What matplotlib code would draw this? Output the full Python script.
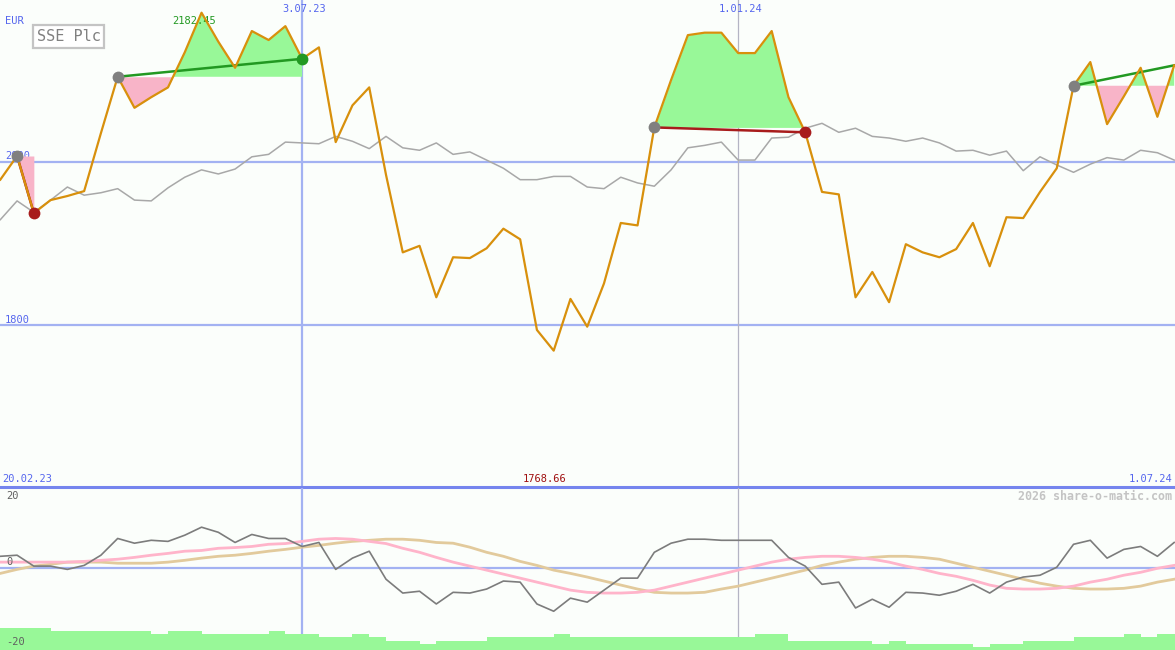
import numpy as np
import pandas as pd
import matplotlib
matplotlib.use("Agg")
import matplotlib.pyplot as plt
from matplotlib.patches import Rectangle
from matplotlib.transforms import blended_transform_factory

# ---------------- data ----------------
dates = pd.date_range("2023-02-27", periods=71, freq="7D")

price = [1978, 2007, 1937, 1953, 1958, 1964, 2035, 2104, 2066, 2079,
         2091, 2134, 2182.45, 2147, 2115, 2160, 2149, 2166, 2126, 2140,
         2024, 2069, 2091, 1984, 1889, 1897, 1834, 1883, 1882, 1894,
         1918, 1905, 1794, 1768.66, 1832, 1798, 1851, 1925, 1922, 2042,
         2100, 2155, 2158, 2158, 2133, 2133, 2160, 2079, 2036, 1963,
         1960, 1834, 1865, 1828, 1899, 1889, 1883, 1893, 1925, 1872,
         1932, 1931, 1963, 1992, 2093, 2122, 2046, 2080, 2115, 2055,
         2118]

benchmark = [1929, 1952, 1938, 1953, 1969, 1959, 1962, 1967, 1953, 1952,
             1968, 1981, 1990, 1985, 1991, 2006, 2009, 2024, 2023, 2022,
             2031, 2025, 2016, 2031, 2017, 2014, 2023, 2009, 2012, 2002,
             1992, 1978, 1978, 1982, 1982, 1969, 1967, 1981, 1974, 1970,
             1990, 2017, 2020, 2024, 2002, 2002, 2029, 2030, 2041, 2047,
             2036, 2041, 2031, 2029, 2025, 2029, 2023, 2013, 2014, 2008,
             2013, 1989, 2006, 1996, 1987, 1997, 2005, 2002, 2014, 2011,
             2002]

momentum = [3.2, 3.5, 0.5, 0.5, -0.4, 0.7, 3.5, 8.1, 6.8, 7.6,
            7.3, 9.0, 11.2, 9.8, 7.0, 9.2, 8.1, 8.1, 5.9, 7.0,
            -0.4, 2.7, 4.6, -3.1, -6.9, -6.4, -9.9, -6.7, -6.9, -5.8,
            -3.6, -3.9, -9.9, -11.9, -8.3, -9.4, -6.1, -2.8, -2.8, 4.3,
            6.8, 7.9, 7.9, 7.6, 7.6, 7.6, 7.6, 2.9, 0.5, -4.5,
            -3.9, -11.0, -8.6, -10.8, -6.7, -6.9, -7.5, -6.4, -4.5, -6.9,
            -3.9, -2.5, -2.0, 0.2, 6.5, 7.6, 2.7, 5.1, 5.9, 3.2,
            7.0]

signal_fast = [1.6, 1.6, 1.6, 1.6, 1.6, 1.8, 2.1, 2.4, 2.9, 3.5,
               4.0, 4.6, 4.8, 5.4, 5.6, 5.9, 6.5, 6.7, 7.3, 7.9,
               8.1, 7.9, 7.3, 6.7, 5.4, 4.3, 2.9, 1.6, 0.5, -0.6,
               -1.7, -2.8, -3.9, -5.0, -6.1, -6.7, -6.9, -6.9, -6.7, -6.1,
               -5.0, -3.9, -2.8, -1.7, -0.6, 0.5, 1.6, 2.4, 2.9, 3.2,
               3.2, 2.9, 2.4, 1.6, 0.5, -0.4, -1.5, -2.3, -3.4, -4.7,
               -5.6, -5.8, -5.8, -5.6, -5.0, -3.9, -3.1, -2.0, -1.2, -0.1,
               0.7]

signal_slow = [-1.5, -0.4, 0.5, 1.0, 1.6, 1.6, 1.6, 1.3, 1.3, 1.3,
               1.6, 2.1, 2.7, 3.2, 3.5, 4.0, 4.6, 5.1, 5.7, 6.2,
               6.8, 7.3, 7.6, 7.9, 7.9, 7.6, 7.0, 6.8, 5.7, 4.3,
               3.2, 1.8, 0.7, -0.6, -1.5, -2.5, -3.6, -4.7, -5.8, -6.7,
               -6.9, -6.9, -6.7, -5.8, -5.0, -3.9, -2.8, -1.7, -0.6, 0.7,
               1.6, 2.4, 2.9, 3.2, 3.2, 2.9, 2.4, 1.3, 0.2, -0.9,
               -2.0, -3.1, -4.2, -5.0, -5.6, -5.8, -5.8, -5.6, -5.0, -3.9,
               -3.1]

volume = [7, 7, 7, 6, 6, 6, 6, 6, 6, 5,
          6, 6, 5, 5, 5, 5, 6, 5, 5, 4,
          4, 5, 4, 3, 3, 2, 3, 3, 3, 4,
          4, 4, 4, 5, 4, 4, 4, 4, 4, 4,
          4, 4, 4, 4, 4, 5, 5, 3, 3, 3,
          3, 3, 2, 3, 2, 2, 2, 2, 1, 2,
          2, 3, 3, 3, 4, 4, 4, 5, 4, 5,
          5]

# trades: (entry index, exit index, result)
trades = [(1, 2, "loss"), (7, 18, "win"), (39, 48, "loss"), (64, 70, "open")]

tick_dates = ["3.07.23", "1.01.24"]
range_start_label = "20.02.23"
range_end_label = "1.07.24"
currency = "EUR"
title = "SSE Plc"
price_levels = [2000, 1800]
osc_labels = [20, 0, -20]

# ---------------- style ----------------
BG = "#fbfefb"
BLUE_GRID = "#a3b2f2"
BLUE_SEP = "#7585ee"
BLUE_TXT = "#5566ee"
ORANGE = "#d8900c"
GREY = "#a8a8a8"
GREEN_FILL = "#98f898"
PINK_FILL = "#f8b4c8"
GREEN_LINE = "#229922"
RED = "#a81c1c"
MONO = "DejaVu Sans Mono"

W, H = 1175, 650
fig = plt.figure(figsize=(W / 100, H / 100), dpi=100, facecolor=BG)
ax = fig.add_axes([0, 163 / H, 1, 487 / H])
ax2 = fig.add_axes([0, 0, 1, 162 / H])
for a in (ax, ax2):
    a.set_facecolor(BG)
    a.set_axis_off()
    a.set_xlim(-0.018, 70.05)

ax.set_ylim(1601.7, 2198.0)
ax2.set_ylim(-22.55, 21.97)

x = np.arange(len(price))
p = np.array(price, dtype=float)
date_str = [f"{d.day}.{d.month:02d}.{d.strftime('%y')}" for d in dates]
tick_idx = [date_str.index(t) for t in tick_dates]


def fx(px):
    return px / W


def fy(py):
    return 1 - py / H


# grid lines
for lv in price_levels:
    ax.axhline(lv, color=BLUE_GRID, lw=1.6, zorder=1)
ax.axvline(tick_idx[0], color=BLUE_GRID, lw=1.6, zorder=1)
ax.axvline(tick_idx[1], color="#b4b4c4", lw=0.9, zorder=1)
ax2.axvline(tick_idx[0], color=BLUE_GRID, lw=1.6, zorder=1)
ax2.axvline(tick_idx[1], color="#b4b4c4", lw=0.9, zorder=1)
ax2.axhline(0, color=BLUE_GRID, lw=1.6, zorder=2)

# price-level labels
tb = blended_transform_factory(ax.transAxes, ax.transData)
for lv in price_levels:
    ax.text(fx(5), lv + 3, str(lv), transform=tb, ha="left", va="baseline",
            color=BLUE_TXT, fontsize=7.5, family=MONO, zorder=1.5)

# trade fills
for s, e, res in trades:
    lvl = p[s]
    xs = x[s:e + 1]
    ys = p[s:e + 1]
    ax.fill_between(xs, ys, lvl, where=ys >= lvl, interpolate=True,
                    color=GREEN_FILL, lw=0, zorder=2)
    ax.fill_between(xs, ys, lvl, where=ys <= lvl, interpolate=True,
                    color=PINK_FILL, lw=0, zorder=2)

# benchmark and price
ax.plot(x, benchmark, color=GREY, lw=1.1, zorder=3)
ax.plot(x, p, color=ORANGE, lw=1.6, zorder=4)

# trade lines and markers
for s, e, res in trades:
    lc = RED if res == "loss" else GREEN_LINE
    ax.plot([s, e], [p[s], p[e]], color=lc, lw=1.8, zorder=3.5)
    ax.plot(s, p[s], "o", color="#808080", ms=8.5, mec="none", zorder=6)
    if res == "loss":
        ax.plot(e, p[e], "o", color=RED, ms=8.5, mec="none", zorder=6)
    elif res == "win":
        ax.plot(e, p[e], "o", color=GREEN_LINE, ms=8.5, mec="none", zorder=6)

# separator line
ax.axhline(1601.7, color=BLUE_SEP, lw=2.2, zorder=7, clip_on=False)

# peak / trough labels
imax = int(np.argmax(p))
imin = int(np.argmin(p))
ax.annotate(f"{p[imax]:.2f}", xy=(imax, p[imax]), xytext=(-7, -8),
            textcoords="offset pixels", ha="center", va="center",
            color=GREEN_LINE, fontsize=7.5, family=MONO, zorder=3.5)
tbx = blended_transform_factory(ax.transData, fig.transFigure)
ax.text(imin - 0.52, fy(479), f"{p[imin]:.2f}", transform=tbx, ha="center",
        va="center", color="#a01010", fontsize=7.5, family=MONO, zorder=8)

# date labels on top
for t, i in zip(tick_dates, tick_idx):
    ax.text(i + 0.15, fy(9), t, transform=tbx, ha="center", va="center",
            color=BLUE_TXT, fontsize=7.5, family=MONO, zorder=8)

fig.text(fx(2), fy(479), range_start_label, ha="left", va="center",
         color=BLUE_TXT, fontsize=7.5, family=MONO)
fig.text(fx(1172), fy(479), range_end_label, ha="right", va="center",
         color=BLUE_TXT, fontsize=7.5, family=MONO)
fig.text(fx(5), fy(21), currency, ha="left", va="center",
         color=BLUE_TXT, fontsize=7.5, family=MONO)

# title box
fig.patches.append(Rectangle((fx(33), fy(48)), fx(71), 23 / H,
                             transform=fig.transFigure, facecolor="white",
                             edgecolor="#c4c4c4", lw=1.6, zorder=9))
fig.text(fx(68.5), fy(36.5), title, ha="center", va="center",
         color="#808080", fontsize=11, family=MONO, zorder=10)

# ---------------- lower panel ----------------
PX_PER_UNIT = 3.64
VOL_PX = 3.15
ybot = -22.55
ax2.bar(x, np.array(volume) * VOL_PX / PX_PER_UNIT, bottom=ybot, width=1.0,
        align="edge", color=GREEN_FILL, lw=0, zorder=1.5)
ax2.plot(x, signal_slow, color="#e2ca9c", lw=2.0, zorder=3)
ax2.plot(x, signal_fast, color="#ffb4ca", lw=2.0, zorder=3)
ax2.plot(x, momentum, color="#7c7c7c", lw=1.2, zorder=4)

for val, py in zip(osc_labels, [496, 562, 642]):
    fig.text(fx(6), fy(py), str(val), ha="left", va="center",
             color="#606060", fontsize=7.5, family=MONO)

fig.text(fx(1172), fy(496), "2026 share-o-matic.com", ha="right",
         va="center", color="#c4c4c4", fontsize=8.4, family=MONO,
         fontweight="bold")

fig.savefig("out.png", dpi=100, facecolor=BG)
